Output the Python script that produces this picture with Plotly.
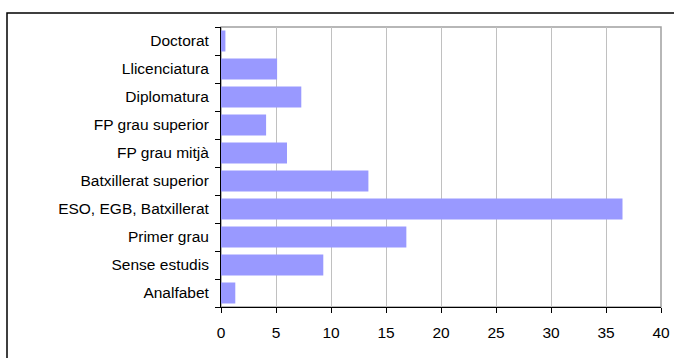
import plotly.graph_objects as go

categories = ["Analfabet", "Sense estudis", "Primer grau", "ESO, EGB, Batxillerat",
              "Batxillerat superior", "FP grau mitjà", "FP grau superior",
              "Diplomatura", "Llicenciatura", "Doctorat"]
values = [1.3, 9.3, 16.85, 36.5, 13.4, 6.0, 4.1, 7.3, 5.1, 0.4]
x_ticks = [0, 5, 10, 15, 20, 25, 30, 35, 40]

fig = go.Figure(go.Bar(
    y=categories, x=values, orientation="h",
    marker=dict(color="#9999ff", line=dict(width=0)),
))

fig.update_layout(
    width=674, height=358,
    margin=dict(l=221, r=13, t=27, b=51, autoexpand=False),
    paper_bgcolor="white", plot_bgcolor="white",
    font=dict(family="Liberation Sans, Arial, sans-serif", size=15.5, color="black"),
    bargap=0.25,
    showlegend=False,
    xaxis=dict(range=[0, 40], tickvals=x_ticks, showgrid=True, gridcolor="#c0c0c0",
               gridwidth=1, showline=True, linecolor="black", linewidth=1,
               ticks="outside", ticklen=5, tickcolor="black", zeroline=False,
               ticklabelstandoff=6, automargin=False),
    yaxis=dict(categoryorder="array", categoryarray=categories, showgrid=False,
               showline=True, linecolor="black", linewidth=1, ticks="outside",
               tickson="boundaries", ticklen=5, tickcolor="black",
               ticklabelstandoff=8, zeroline=False, automargin=False),
    shapes=[
        dict(type="rect", xref="paper", yref="paper", x0=0, x1=1, y0=0, y1=1,
             line=dict(color="#a0a0a0", width=1.5), layer="below"),
        dict(type="rect", xref="paper", yref="paper",
             x0=(7 - 221) / 440, x1=(680 - 221) / 440,
             y0=(307 - 365) / 280, y1=(307 - 13) / 280,
             line=dict(color="black", width=1.5), layer="below"),
    ],
)

fig.write_html("out.html", config={"displayModeBar": False},
               post_script="document.body.style.margin='0';")
